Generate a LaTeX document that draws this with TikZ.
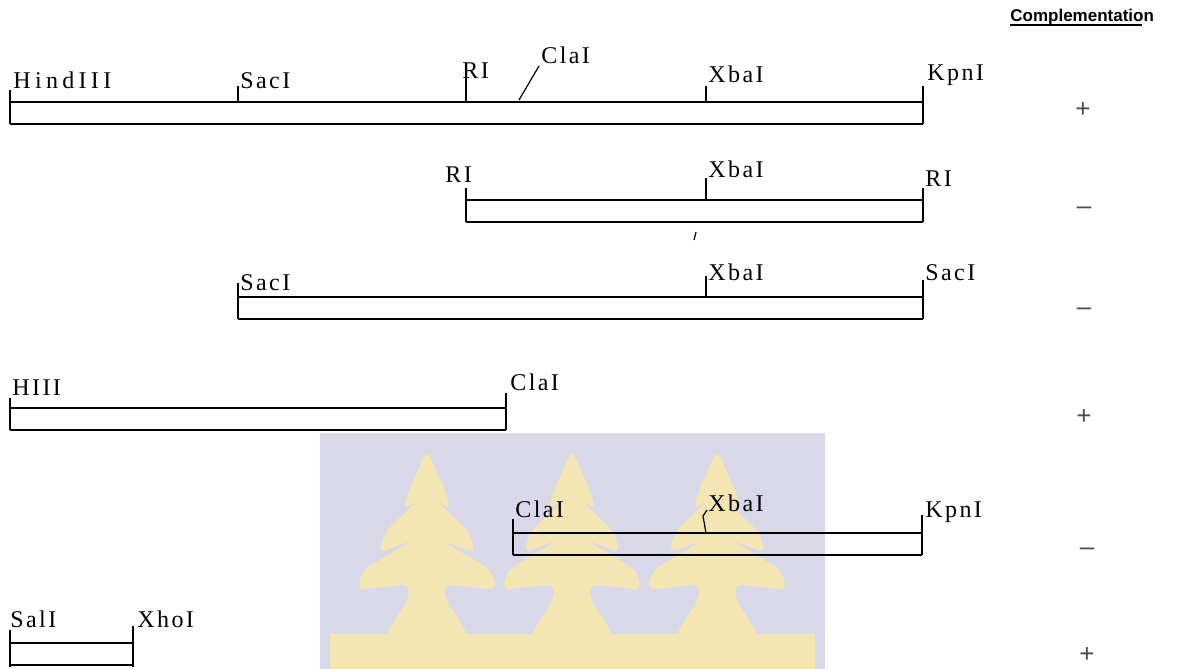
\documentclass[tikz,border=0pt]{standalone}
\usepackage{fontspec}
\setmainfont{Liberation Serif}
\newfontfamily\signfont{Liberation Sans}
\usetikzlibrary{positioning}

\definecolor{crestback}{RGB}{216,216,233}
\definecolor{crestleaf}{RGB}{244,230,178}

\begin{document}
\begin{tikzpicture}[
  x=0.5pt,
  y=-0.5pt,
  strand/.style={black, line width=1.2pt},
  fragend/.style={black, line width=0.6pt},
  site/.style={font=\fontsize{12}{12}\selectfont\addfontfeature{LetterSpace=10},
    inner sep=0pt, anchor=base west},
  sign/.style={font=\signfont\fontsize{13}{13}\selectfont, text=black!70, inner sep=0pt},
  leaf/.style={fill=crestleaf, draw=none}
]
  \useasboundingbox (0,0) rectangle (1179,669);

  % crest in the background
  \fill[crestback] (320,433) rectangle (825,669);
  \fill[leaf] (330,634) rectangle (815,669);
  \foreach \cx in {427,572,717} {
    \fill[leaf, rounded corners=4pt]
      (\cx,450) -- (\cx+18,490) -- (\cx+24,510) -- (\cx+9,500)
      -- (\cx+42,532) -- (\cx+48,553) -- (\cx+14,540)
      -- (\cx+64,570) -- (\cx+70,590) -- (\cx+18,584) -- (\cx+18,598)
      -- (\cx+42,636) -- (\cx-42,636) -- (\cx-18,598)
      -- (\cx-18,584) -- (\cx-70,590) -- (\cx-64,570)
      -- (\cx-14,540) -- (\cx-48,553) -- (\cx-42,532)
      -- (\cx-9,500) -- (\cx-24,510) -- (\cx-18,490) -- cycle;
  }

  % column heading
  \node[font=\signfont\bfseries\fontsize{8.5}{8.5}\selectfont, inner sep=0pt, anchor=base west]
    (compl) at (1010,21) {Complementation};
  \draw[line width=0.7pt] ([yshift=-2pt]compl.base west) -- ([yshift=-2pt,xshift=-6pt]compl.base east);

  % fragments: two strands each
  \foreach \xa/\xb/\yt in {10/923/102, 466/923/200, 238/923/297, 10/506/408, 513/922/533, 10/133/643} {
    \draw[strand] (\xa,\yt) -- (\xb,\yt);
    \draw[strand] (\xa,\yt+22) -- (\xb,\yt+22);
  }

  % fragment 1
  \draw[fragend] (10,90) -- (10,124);
  \draw[fragend] (238,86) -- (238,102);
  \draw[fragend] (466,78) -- (466,102);
  \draw[fragend] (519,100) -- (539,66);
  \draw[fragend] (706,86) -- (706,102);
  \draw[fragend] (923,86) -- (923,124);
  \node[site, font=\fontsize{12}{12}\selectfont\addfontfeature{LetterSpace=18}] (hind) at (13,88) {HindIII};
  \node[site] (sac) at (240,88) {SacI};
  \node[site] (eco) at (462,78) {RI};
  \node[site] (cla) at (541,63) {ClaI};
  \node[site] (xba) at (708,83) {XbaI};
  \node[site] (kpn) at (927,80) {KpnI};
  \node[sign] (res1) at (1083,110) {+};

  % fragment 2
  \draw[fragend] (466,188) -- (466,222);
  \draw[fragend] (706,178) -- (706,200);
  \draw[fragend] (923,188) -- (923,222);
  \draw[fragend] (696,232) -- (694,240);
  \node[site] (ecoL) at (445,182) {RI};
  \node[site] (xbaB) at (708,177) {XbaI};
  \node[site] (ecoR) at (925,186) {RI};
  \node[sign] (res2) at (1084,211) {–};

  % fragment 3
  \draw[fragend] (238,283) -- (238,319);
  \draw[fragend] (706,276) -- (706,297);
  \draw[fragend] (923,280) -- (923,319);
  \node[site] (sacL) at (240,290) {SacI};
  \node[site] (xbaC) at (708,280) {XbaI};
  \node[site] (sacR) at (925,280) {SacI};
  \node[sign] (res3) at (1084,312) {–};

  % fragment 4
  \draw[fragend] (10,398) -- (10,430);
  \draw[fragend] (506,393) -- (506,430);
  \node[site] (hiii) at (12,395) {HIII};
  \node[site] (claD) at (510,390) {ClaI};
  \node[sign] (res4) at (1084,417) {+};

  % fragment 5
  \draw[fragend] (513,519) -- (513,555);
  \draw[fragend] (706,533) -- (703,516) -- (707,510);
  \draw[fragend] (922,515) -- (922,555);
  \node[site] (claE) at (515,517) {ClaI};
  \node[site] (xbaE) at (708,511) {XbaI};
  \node[site] (kpnE) at (925,517) {KpnI};
  \node[sign] (res5) at (1087,552) {–};

  % fragment 6
  \draw[fragend] (10,630) -- (10,667);
  \draw[fragend] (133,626) -- (133,667);
  \node[site] (sal) at (10,627) {SalI};
  \node[site] (xho) at (137,627) {XhoI};
  \node[sign] (res6) at (1087,655) {+};
\end{tikzpicture}
\end{document}
